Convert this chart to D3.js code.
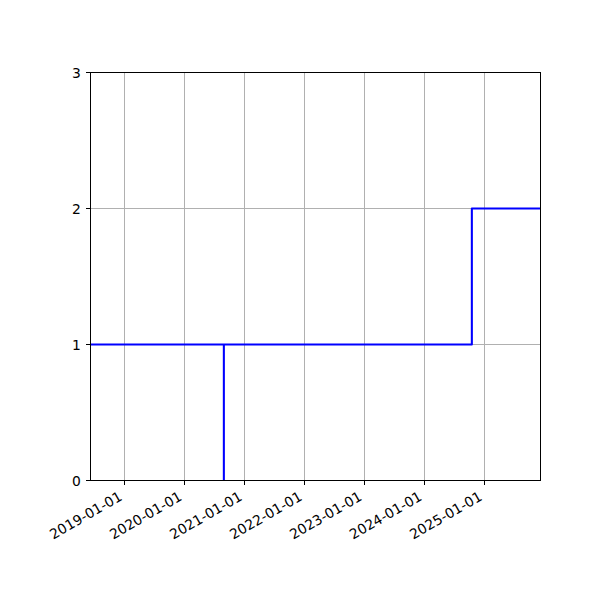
<!DOCTYPE html>
<html>
<head>
<meta charset="utf-8">
<script src="https://cdn.jsdelivr.net/npm/d3@7"></script>
<style>
  body { margin: 0; background: #fff; }
  text { font-family: "DejaVu Sans", sans-serif; font-size: 13.89px; fill: #000; }
  .crisp { shape-rendering: crispEdges; }
</style>
</head>
<body>
<div id="chart"></div>
<script>
// data (points in drawing order, step drawn "before")
const dates = ["2020-08-28", "2018-06-08", "2024-10-16", "2025-12-08"];
const counts = [0, 1, 1, 2];
const xLimits = ["2018-06-08", "2025-12-08"];
const xTicks = ["2019-01-01", "2020-01-01", "2021-01-01", "2022-01-01", "2023-01-01", "2024-01-01", "2025-01-01"];
const yTicks = [0, 1, 2, 3];

const W = 600, H = 600;
const margin = { top: 72, right: 60, bottom: 120, left: 90 };
const width = W - margin.left - margin.right,
  height = H - margin.top - margin.bottom;

const parse = d3.utcParse("%Y-%m-%d");
const points = dates.map((d, i) => ({ date: parse(d), value: counts[i] }));

const svg = d3.select("#chart")
  .append("svg")
  .attr("width", W)
  .attr("height", H);

const g = svg.append("g")
  .attr("transform", `translate(${margin.left + 0.5},${margin.top + 0.5})`);

const x = d3.scaleUtc()
  .domain(xLimits.map(parse))
  .range([0, width]);

const y = d3.scaleLinear()
  .domain([0, 3])
  .range([height, 0]);

const tickLen = 4.86, pad = 4.86;

// grid
g.append("g")
  .attr("class", "crisp")
  .selectAll("line")
  .data(xTicks.map(parse))
  .join("line")
  .attr("x1", d => Math.round(x(d))).attr("x2", d => Math.round(x(d)))
  .attr("y1", 0).attr("y2", height)
  .attr("stroke", "#b0b0b0")
  .attr("stroke-width", 1);

g.append("g")
  .attr("class", "crisp")
  .selectAll("line")
  .data(yTicks)
  .join("line")
  .attr("x1", 0).attr("x2", width)
  .attr("y1", d => y(d)).attr("y2", d => y(d))
  .attr("stroke", "#b0b0b0")
  .attr("stroke-width", 1);

// clip to the axes area
svg.append("defs").append("clipPath")
  .attr("id", "clip")
  .append("rect")
  .attr("width", width)
  .attr("height", height);

const line = d3.line()
  .x(d => x(d.date))
  .y(d => y(d.value))
  .curve(d3.curveStepBefore);

g.append("path")
  .datum(points)
  .attr("clip-path", "url(#clip)")
  .attr("d", line)
  .attr("fill", "none")
  .attr("stroke", "blue")
  .attr("stroke-width", 2.08)
  .attr("stroke-linejoin", "round");

// spines
g.append("rect")
  .attr("class", "crisp")
  .attr("width", width)
  .attr("height", height)
  .attr("fill", "none")
  .attr("stroke", "#000")
  .attr("stroke-width", 1);

// y ticks
const yAxis = g.append("g");
yAxis.selectAll("line")
  .data(yTicks)
  .join("line")
  .attr("class", "crisp")
  .attr("x1", -tickLen).attr("x2", 0)
  .attr("y1", d => y(d)).attr("y2", d => y(d))
  .attr("stroke", "#000")
  .attr("stroke-width", 1);
yAxis.selectAll("text")
  .data(yTicks)
  .join("text")
  .attr("x", -tickLen - pad)
  .attr("y", d => y(d))
  .attr("dy", "0.36em")
  .attr("text-anchor", "end")
  .text(d => d);

// x ticks, labels rotated 30deg like autofmt_xdate
const xAxis = g.append("g");
xAxis.selectAll("line")
  .data(xTicks.map(parse))
  .join("line")
  .attr("class", "crisp")
  .attr("x1", d => Math.round(x(d))).attr("x2", d => Math.round(x(d)))
  .attr("y1", height).attr("y2", height + tickLen)
  .attr("stroke", "#000")
  .attr("stroke-width", 1);

const asc = 10.56, desc = 2.89;
xAxis.selectAll("text")
  .data(xTicks)
  .join("text")
  .attr("text-anchor", "end")
  .attr("transform", d => `translate(${x(parse(d)) - 0.5 * desc},${height + tickLen + pad + 0.866 * asc}) rotate(-30)`)
  .text(d => d);
</script>
</body>
</html>
